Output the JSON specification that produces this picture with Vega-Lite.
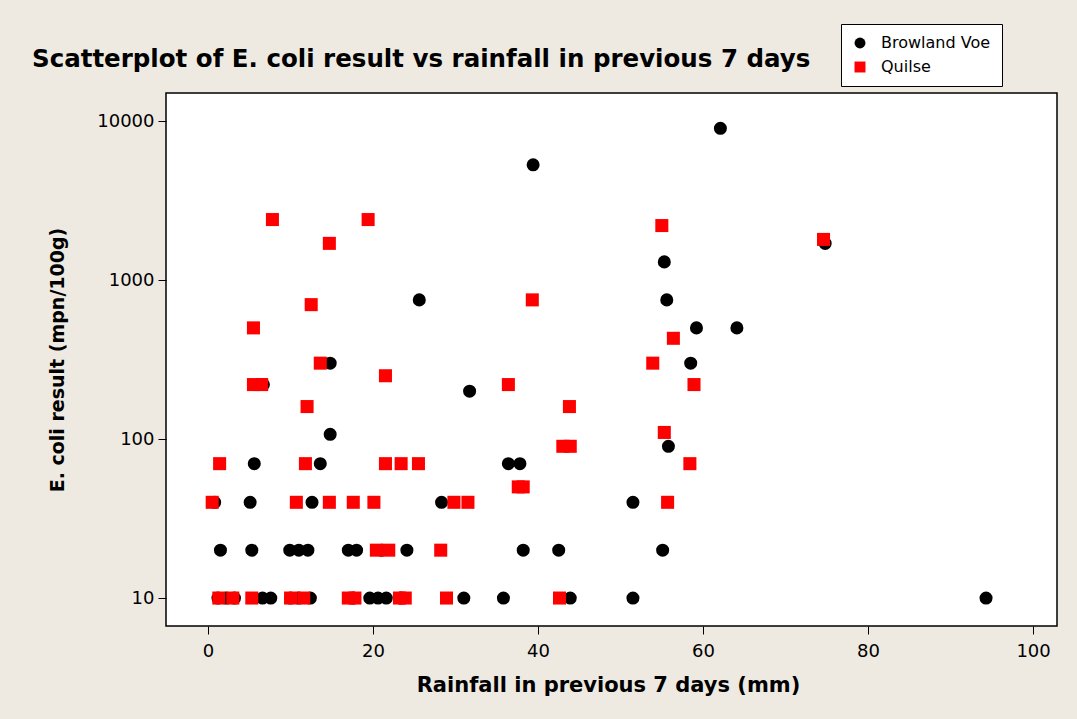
{
  "$schema": "https://vega.github.io/schema/vega-lite/v6.json",
  "width": 891,
  "height": 533,
  "autosize": {"type": "none"},
  "padding": {"left": 166, "top": 93, "right": 20, "bottom": 93},
  "background": "#EEEAE1",
  "title": {
    "text": "Scatterplot of E. coli result vs rainfall in previous 7 days",
    "anchor": "start",
    "frame": "group",
    "dx": -134,
    "offset": -68,
    "baseline": "alphabetic",
    "font": "DejaVu Sans",
    "fontSize": 24.5,
    "fontWeight": "bold",
    "color": "black"
  },
  "data": {
    "values": [
      {"site": "Browland Voe", "rain": 1.2, "ecoli": 10},
      {"site": "Browland Voe", "rain": 2.2, "ecoli": 10},
      {"site": "Browland Voe", "rain": 3.2, "ecoli": 10},
      {"site": "Browland Voe", "rain": 6.6, "ecoli": 10},
      {"site": "Browland Voe", "rain": 7.6, "ecoli": 10},
      {"site": "Browland Voe", "rain": 10.0, "ecoli": 10},
      {"site": "Browland Voe", "rain": 11.0, "ecoli": 10},
      {"site": "Browland Voe", "rain": 12.4, "ecoli": 10},
      {"site": "Browland Voe", "rain": 17.6, "ecoli": 10},
      {"site": "Browland Voe", "rain": 19.6, "ecoli": 10},
      {"site": "Browland Voe", "rain": 20.6, "ecoli": 10},
      {"site": "Browland Voe", "rain": 21.6, "ecoli": 10},
      {"site": "Browland Voe", "rain": 23.4, "ecoli": 10},
      {"site": "Browland Voe", "rain": 31.0, "ecoli": 10},
      {"site": "Browland Voe", "rain": 35.8, "ecoli": 10},
      {"site": "Browland Voe", "rain": 43.9, "ecoli": 10},
      {"site": "Browland Voe", "rain": 51.5, "ecoli": 10},
      {"site": "Browland Voe", "rain": 94.3, "ecoli": 10},
      {"site": "Browland Voe", "rain": 1.5, "ecoli": 20},
      {"site": "Browland Voe", "rain": 5.3, "ecoli": 20},
      {"site": "Browland Voe", "rain": 9.9, "ecoli": 20},
      {"site": "Browland Voe", "rain": 11.0, "ecoli": 20},
      {"site": "Browland Voe", "rain": 12.1, "ecoli": 20},
      {"site": "Browland Voe", "rain": 17.0, "ecoli": 20},
      {"site": "Browland Voe", "rain": 18.0, "ecoli": 20},
      {"site": "Browland Voe", "rain": 21.0, "ecoli": 20},
      {"site": "Browland Voe", "rain": 24.1, "ecoli": 20},
      {"site": "Browland Voe", "rain": 38.2, "ecoli": 20},
      {"site": "Browland Voe", "rain": 42.5, "ecoli": 20},
      {"site": "Browland Voe", "rain": 55.1, "ecoli": 20},
      {"site": "Browland Voe", "rain": 0.8, "ecoli": 40},
      {"site": "Browland Voe", "rain": 5.1, "ecoli": 40},
      {"site": "Browland Voe", "rain": 12.6, "ecoli": 40},
      {"site": "Browland Voe", "rain": 28.3, "ecoli": 40},
      {"site": "Browland Voe", "rain": 51.5, "ecoli": 40},
      {"site": "Browland Voe", "rain": 5.6, "ecoli": 70},
      {"site": "Browland Voe", "rain": 13.6, "ecoli": 70},
      {"site": "Browland Voe", "rain": 36.4, "ecoli": 70},
      {"site": "Browland Voe", "rain": 37.8, "ecoli": 70},
      {"site": "Browland Voe", "rain": 55.8, "ecoli": 90},
      {"site": "Browland Voe", "rain": 14.8, "ecoli": 107},
      {"site": "Browland Voe", "rain": 31.7, "ecoli": 200},
      {"site": "Browland Voe", "rain": 6.7, "ecoli": 220},
      {"site": "Browland Voe", "rain": 14.8, "ecoli": 300},
      {"site": "Browland Voe", "rain": 58.5, "ecoli": 300},
      {"site": "Browland Voe", "rain": 59.2, "ecoli": 500},
      {"site": "Browland Voe", "rain": 64.1, "ecoli": 500},
      {"site": "Browland Voe", "rain": 25.6, "ecoli": 750},
      {"site": "Browland Voe", "rain": 55.6, "ecoli": 750},
      {"site": "Browland Voe", "rain": 55.3, "ecoli": 1300},
      {"site": "Browland Voe", "rain": 74.8, "ecoli": 1700},
      {"site": "Browland Voe", "rain": 39.4, "ecoli": 5300},
      {"site": "Browland Voe", "rain": 62.1, "ecoli": 9000},
      {"site": "Quilse", "rain": 1.3, "ecoli": 10},
      {"site": "Quilse", "rain": 3.0, "ecoli": 10},
      {"site": "Quilse", "rain": 5.3, "ecoli": 10},
      {"site": "Quilse", "rain": 10.0, "ecoli": 10},
      {"site": "Quilse", "rain": 11.6, "ecoli": 10},
      {"site": "Quilse", "rain": 17.0, "ecoli": 10},
      {"site": "Quilse", "rain": 17.8, "ecoli": 10},
      {"site": "Quilse", "rain": 23.2, "ecoli": 10},
      {"site": "Quilse", "rain": 23.9, "ecoli": 10},
      {"site": "Quilse", "rain": 28.9, "ecoli": 10},
      {"site": "Quilse", "rain": 42.6, "ecoli": 10},
      {"site": "Quilse", "rain": 20.4, "ecoli": 20},
      {"site": "Quilse", "rain": 21.9, "ecoli": 20},
      {"site": "Quilse", "rain": 28.2, "ecoli": 20},
      {"site": "Quilse", "rain": 0.5, "ecoli": 40},
      {"site": "Quilse", "rain": 10.7, "ecoli": 40},
      {"site": "Quilse", "rain": 14.7, "ecoli": 40},
      {"site": "Quilse", "rain": 17.6, "ecoli": 40},
      {"site": "Quilse", "rain": 20.1, "ecoli": 40},
      {"site": "Quilse", "rain": 29.8, "ecoli": 40},
      {"site": "Quilse", "rain": 31.5, "ecoli": 40},
      {"site": "Quilse", "rain": 55.7, "ecoli": 40},
      {"site": "Quilse", "rain": 37.6, "ecoli": 50},
      {"site": "Quilse", "rain": 38.2, "ecoli": 50},
      {"site": "Quilse", "rain": 1.4, "ecoli": 70},
      {"site": "Quilse", "rain": 11.8, "ecoli": 70},
      {"site": "Quilse", "rain": 21.5, "ecoli": 70},
      {"site": "Quilse", "rain": 23.4, "ecoli": 70},
      {"site": "Quilse", "rain": 25.5, "ecoli": 70},
      {"site": "Quilse", "rain": 58.4, "ecoli": 70},
      {"site": "Quilse", "rain": 43.0, "ecoli": 90},
      {"site": "Quilse", "rain": 43.9, "ecoli": 90},
      {"site": "Quilse", "rain": 55.3, "ecoli": 110},
      {"site": "Quilse", "rain": 12.0, "ecoli": 160},
      {"site": "Quilse", "rain": 43.8, "ecoli": 160},
      {"site": "Quilse", "rain": 5.5, "ecoli": 220},
      {"site": "Quilse", "rain": 6.5, "ecoli": 220},
      {"site": "Quilse", "rain": 36.4, "ecoli": 220},
      {"site": "Quilse", "rain": 58.9, "ecoli": 220},
      {"site": "Quilse", "rain": 21.5, "ecoli": 250},
      {"site": "Quilse", "rain": 13.6, "ecoli": 300},
      {"site": "Quilse", "rain": 53.9, "ecoli": 300},
      {"site": "Quilse", "rain": 56.4, "ecoli": 430},
      {"site": "Quilse", "rain": 5.5, "ecoli": 500},
      {"site": "Quilse", "rain": 12.5, "ecoli": 700},
      {"site": "Quilse", "rain": 39.3, "ecoli": 750},
      {"site": "Quilse", "rain": 14.7, "ecoli": 1700},
      {"site": "Quilse", "rain": 74.6, "ecoli": 1800},
      {"site": "Quilse", "rain": 55.0, "ecoli": 2200},
      {"site": "Quilse", "rain": 7.8, "ecoli": 2400},
      {"site": "Quilse", "rain": 19.4, "ecoli": 2400}
    ]
  },
  "mark": {"type": "point", "filled": true, "opacity": 1, "size": 170},
  "encoding": {
    "x": {
      "field": "rain",
      "type": "quantitative",
      "scale": {"domain": [-5.1, 102.9], "nice": false, "zero": false},
      "axis": {
        "title": "Rainfall in previous 7 days (mm)",
        "values": [0, 20, 40, 60, 80, 100],
        "domain": false,
        "grid": false,
        "tickColor": "black",
        "tickSize": 8,
        "labelFont": "DejaVu Sans",
        "labelFontSize": 18,
        "labelColor": "black",
        "labelPadding": 8,
        "labelFlush": false,
        "labelOverlap": false,
        "titleFont": "DejaVu Sans",
        "titleFontSize": 21,
        "titleFontWeight": "bold",
        "titleColor": "black",
        "titleX": 442,
        "titleY": 59,
        "titleAlign": "center",
        "titleBaseline": "middle"
      }
    },
    "y": {
      "field": "ecoli",
      "type": "quantitative",
      "scale": {"type": "log", "domain": [6.67, 15000], "nice": false},
      "axis": {
        "title": "E. coli result  (mpn/100g)",
        "values": [10, 100, 1000, 10000],
        "format": "d",
        "domain": false,
        "grid": false,
        "tickColor": "black",
        "tickSize": 8,
        "labelFont": "DejaVu Sans",
        "labelFontSize": 18,
        "labelColor": "black",
        "labelPadding": 4,
        "labelOverlap": false,
        "labelFlush": false,
        "titleFont": "DejaVu Sans",
        "titleFontSize": 19,
        "titleFontWeight": "bold",
        "titleColor": "black",
        "titleAngle": -90,
        "titleX": -109,
        "titleY": 266.5,
        "titleAlign": "center",
        "titleBaseline": "middle"
      }
    },
    "color": {
      "field": "site",
      "type": "nominal",
      "scale": {"domain": ["Browland Voe", "Quilse"], "range": ["#000000", "#FF0000"]},
      "legend": {
        "title": null,
        "orient": "none",
        "legendX": 675,
        "legendY": -69,
        "fillColor": "white",
        "strokeColor": "black",
        "padding": 11,
        "rowPadding": 8,
        "symbolSize": 120,
        "symbolStrokeWidth": 0,
        "labelFont": "DejaVu Sans",
        "labelFontSize": 16,
        "labelColor": "black",
        "labelOffset": 13,
        "labelLimit": 400
      }
    },
    "shape": {
      "field": "site",
      "type": "nominal",
      "scale": {"domain": ["Browland Voe", "Quilse"], "range": ["circle", "square"]}
    }
  },
  "config": {
    "view": {"fill": "white", "stroke": "black", "strokeWidth": 1.5}
  }
}
